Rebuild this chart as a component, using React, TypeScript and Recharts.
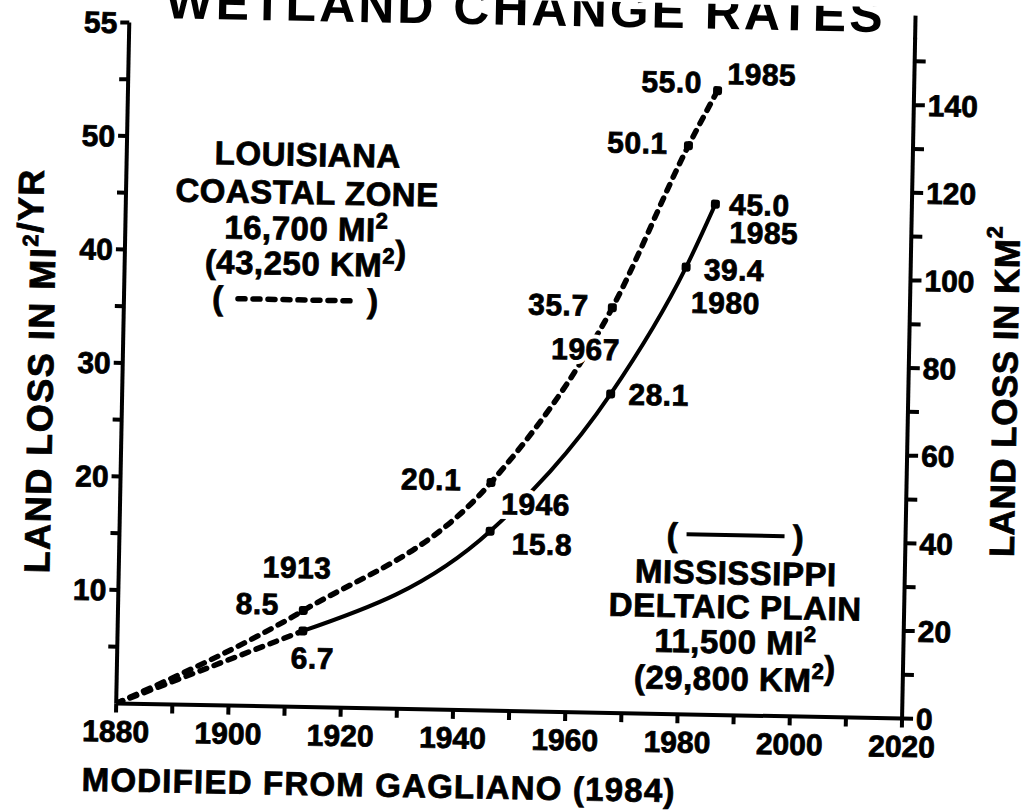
import React from 'react'
import { LineChart, Line, XAxis, YAxis } from 'recharts'

// survey years and land loss rates (sq mi / yr)
const years = [1880, 1913, 1946, 1967, 1980, 1985]
const coastalZoneRate = [0, 8.5, 20.1, 35.7, 50.1, 55.0]
const deltaicPlainRate = [0, 6.7, 15.8, 28.1, 39.4, 45.0]

const coastalValueLabels = ['', '8.5', '20.1', '35.7', '50.1', '55.0']
const coastalYearLabels = ['', '1913', '1946', '1967', '', '1985']
const deltaicValueLabels = ['', '6.7', '15.8', '28.1', '39.4', '45.0']
const deltaicYearLabels = ['', '', '', '', '1980', '1985']

const yearTicks = [1880, 1890, 1900, 1910, 1920, 1930, 1940, 1950, 1960, 1970, 1980, 1990, 2000, 2010, 2020]
const yearTickLabels = ['1880', '', '1900', '', '1920', '', '1940', '', '1960', '', '1980', '', '2000', '', '2020']
const rateTicks = [5, 10, 15, 20, 25, 30, 35, 40, 45, 50, 55, 60]
const rateTickLabels = ['', '10', '', '20', '', '30', '', '40', '', '50', '', '55']
const kmTicks = [0, 10, 20, 30, 40, 50, 60, 70, 80, 90, 100, 110, 120, 130, 140, 150]
const kmTickLabels = ['0', '', '20', '', '40', '', '60', '', '80', '', '100', '', '120', '', '140', '']

const RATE_MAX = 60
const KM2_PER_MI2 = 2.59

const coastalData = years.map((year, i) => ({ year, rate: coastalZoneRate[i], i }))
const deltaicData = years.map((year, i) => ({ year, rate: deltaicPlainRate[i], i }))
const deltaicEarly = deltaicData.slice(0, 2)
const deltaicLate = deltaicData.slice(1)

// label placement relative to each marker (px)
const coastalValueOffsets = [[0, 0], [-46, -6], [-60, -2], [-54, -2], [-51, -2], [-46, -8]]
const coastalYearOffsets = [[0, 0], [-7, -43], [45, 21], [-26, 42], [0, 0], [44, -17]]
const deltaicValueOffsets = [[0, 0], [10, 27], [52, 12], [48, 0], [48, 2], [44, 0]]
const deltaicYearOffsets = [[0, 0], [0, 0], [0, 0], [0, 0], [40, 35], [49, 28]]

const FONT = '"Liberation Sans", Arial, Helvetica, sans-serif'
const ink = '#000'
const heavy = { stroke: ink, strokeWidth: 0.8 }
const labelStyle = { fontFamily: FONT, fontWeight: 700, fontSize: 30, fill: ink, letterSpacing: 0.5 }
const tickStyle = { fontFamily: FONT, fontWeight: 700, fontSize: 30, fill: ink, ...heavy }
const annoStyle = { fontFamily: FONT, fontWeight: 700, fontSize: 33, fill: ink, letterSpacing: 0.5, ...heavy }

function makeDot(name: string, valueLabels: string[], yearLabels: string[], valueOffsets: number[][], yearOffsets: number[][]) {
  return (props: any) => {
    const { cx, cy, payload } = props
    const i = payload?.i ?? props.index
    if (i === 0 || cx == null || cy == null) return <g key={`${name}-${i}`} />
    const vo = valueOffsets[i]
    const yo = yearOffsets[i]
    return (
      <g key={`${name}-${i}`}>
        <rect x={cx - 4.5} y={cy - 4.5} width={9} height={9} rx={2.5} fill={ink} />
        {valueLabels[i] && (
          <text x={cx + vo[0]} y={cy + vo[1]} textAnchor="middle" dominantBaseline="central" stroke={ink} strokeWidth={0.8} style={labelStyle}>
            {valueLabels[i]}
          </text>
        )}
        {yearLabels[i] && (
          <g>
            <text x={cx + yo[0]} y={cy + yo[1]} textAnchor="middle" dominantBaseline="central" stroke="#fff" strokeWidth={9} style={labelStyle}>
              {yearLabels[i]}
            </text>
            <text x={cx + yo[0]} y={cy + yo[1]} textAnchor="middle" dominantBaseline="central" stroke={ink} strokeWidth={0.8} style={labelStyle}>
              {yearLabels[i]}
            </text>
          </g>
        )}
      </g>
    )
  }
}

function Sup({ children }: { children: React.ReactNode }) {
  return (
    <>
      <tspan dy={-13} fontSize={22}>{children}</tspan>
      <tspan dy={13}>{''}</tspan>
    </>
  )
}

function Overlay() {
  return (
    <svg width={1026} height={810} style={{ position: 'absolute', left: 0, top: 0, pointerEvents: 'none' }}>
      <text x={518} y={25} textAnchor="middle" style={{ fontFamily: FONT, fontWeight: 700, fontSize: 50, letterSpacing: 3, fill: ink }}>
        WETLAND CHANGE RATES
      </text>

      {/* right axis runs a little past the top of the plot */}
      <line x1={908} y1={8} x2={908} y2={32} stroke={ink} strokeWidth={4} />

      <text transform="translate(40,380) rotate(-90)" textAnchor="middle" dominantBaseline="central" style={{ ...annoStyle, fontSize: 36, letterSpacing: 1.5 }}>
        LAND LOSS IN MI<Sup>2</Sup>/YR
      </text>
      <text transform="translate(1004,382) rotate(-90)" textAnchor="middle" dominantBaseline="central" style={{ ...annoStyle, fontSize: 35 }}>
        LAND LOSS IN KM<Sup>2</Sup>
      </text>

      <g textAnchor="middle" style={annoStyle}>
        <text x={303} y={170}>LOUISIANA</text>
        <text x={303} y={208}>COASTAL ZONE</text>
        <text x={303} y={244}>16,700 MI<Sup>2</Sup></text>
        <text x={303} y={279}>(43,250 KM<Sup>2</Sup>)</text>
        <text x={216} y={315}>(</text>
        <text x={371} y={315}>)</text>
        <line x1={236} y1={304} x2={354} y2={304} stroke={ink} strokeWidth={5.5} strokeDasharray="7 8" strokeLinecap="round" />

        <text x={675} y={543}>(</text>
        <text x={801} y={543}>)</text>
        <line x1={689} y1={531} x2={787} y2={531} stroke={ink} strokeWidth={4} />
        <text x={739} y={580}>MISSISSIPPI</text>
        <text x={739} y={614}>DELTAIC PLAIN</text>
        <text x={740} y={649}>11,500 MI<Sup>2</Sup></text>
        <text x={740} y={686}>(29,800 KM<Sup>2</Sup>)</text>
      </g>

      <text x={89} y={799} style={{ ...annoStyle, letterSpacing: 1.2 }}>
        MODIFIED FROM GAGLIANO (1984)
      </text>
    </svg>
  )
}

export default function App() {
  return (
    <div style={{ position: 'fixed', left: 0, top: 0, width: 1026, height: 810, overflow: 'hidden', background: '#fff' }}>
      <div style={{ position: 'absolute', left: 0, top: 0, width: 1026, height: 810, transform: 'rotate(1.1deg)', transformOrigin: '513px 405px' }}>
        <LineChart width={1026} height={810} margin={{ top: 30, right: 0, bottom: 0, left: 0 }}>
          <XAxis
            dataKey="year"
            type="number"
            domain={[1880, 2020]}
            ticks={yearTicks}
            tickFormatter={(v: number) => yearTickLabels[yearTicks.indexOf(v)] ?? ''}
            tick={tickStyle}
            tickSize={9}
            tickMargin={8}
            height={99}
            axisLine={{ stroke: ink, strokeWidth: 4 }}
            tickLine={{ stroke: ink, strokeWidth: 4 }}
            allowDataOverflow
          />
          <YAxis
            yAxisId="mi"
            type="number"
            domain={[0, RATE_MAX]}
            ticks={rateTicks}
            tickFormatter={(v: number) => rateTickLabels[rateTicks.indexOf(v)] ?? ''}
            tick={tickStyle}
            tickSize={9}
            tickMargin={3}
            width={122}
            axisLine={{ stroke: ink, strokeWidth: 4 }}
            tickLine={{ stroke: ink, strokeWidth: 4 }}
            allowDataOverflow
          />
          <YAxis
            yAxisId="km"
            orientation="right"
            type="number"
            domain={[0, RATE_MAX * KM2_PER_MI2]}
            ticks={kmTicks}
            tickFormatter={(v: number) => kmTickLabels[kmTicks.indexOf(v)] ?? ''}
            tick={{ ...tickStyle, textAnchor: 'start' }}
            tickSize={11}
            tickMargin={3}
            width={118}
            axisLine={{ stroke: ink, strokeWidth: 4 }}
            tickLine={{ stroke: ink, strokeWidth: 4 }}
            allowDataOverflow
          />
          <Line
            yAxisId="mi"
            data={deltaicEarly}
            dataKey="rate"
            type="monotone"
            stroke={ink}
            strokeWidth={5.5}
            strokeDasharray="7 8"
            strokeLinecap="round"
            dot={false}
            isAnimationActive={false}
          />
          <Line
            yAxisId="mi"
            data={deltaicLate}
            dataKey="rate"
            type="monotone"
            stroke={ink}
            strokeWidth={4}
            dot={makeDot('ms', deltaicValueLabels, deltaicYearLabels, deltaicValueOffsets, deltaicYearOffsets)}
            isAnimationActive={false}
          />
          <Line
            yAxisId="mi"
            data={coastalData}
            dataKey="rate"
            type="monotone"
            stroke={ink}
            strokeWidth={5.5}
            strokeDasharray="7 8"
            strokeLinecap="round"
            dot={makeDot('la', coastalValueLabels, coastalYearLabels, coastalValueOffsets, coastalYearOffsets)}
            isAnimationActive={false}
          />
        </LineChart>
        <Overlay />
      </div>
    </div>
  )
}
